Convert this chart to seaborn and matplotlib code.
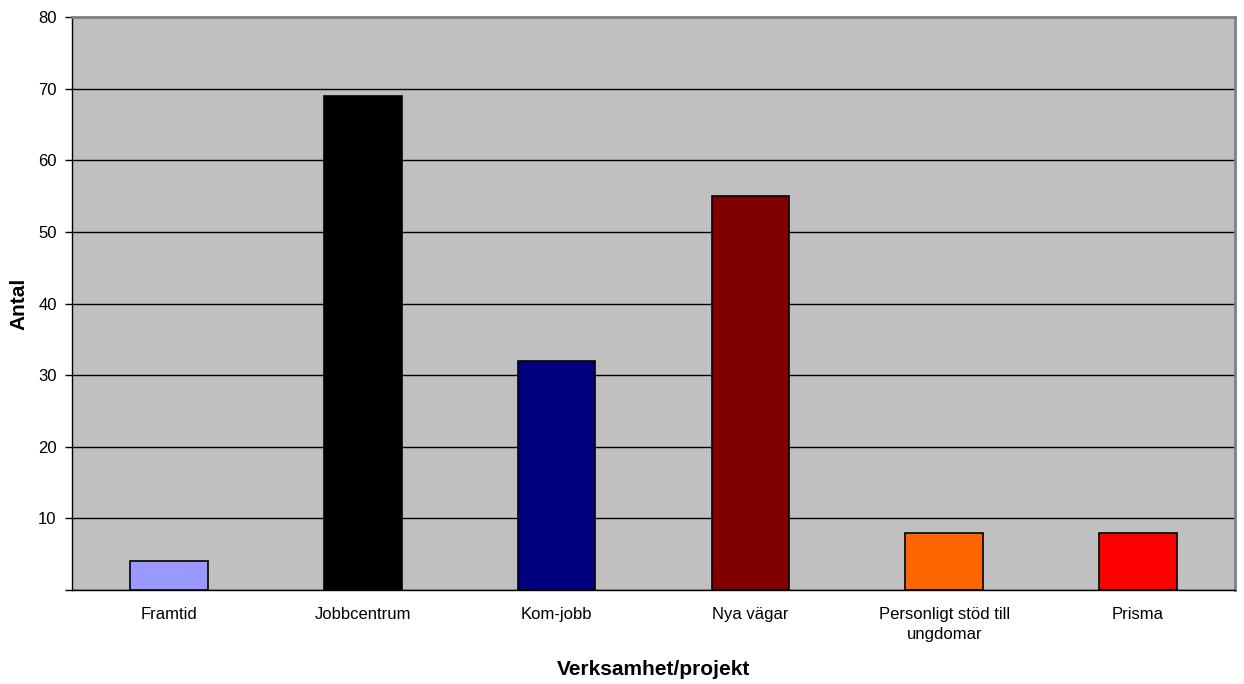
import matplotlib
matplotlib.use("Agg")
import matplotlib.pyplot as plt
import seaborn as sns
import pandas as pd
import numpy as np
from matplotlib.ticker import FixedLocator

categories = ["Framtid", "Jobbcentrum", "Kom-jobb", "Nya vägar",
              "Personligt stöd till\nungdomar", "Prisma"]
values = [4, 69, 32, 55, 8, 8]
colors = ["#9999FF", "#000000", "#000080", "#800000", "#FF6600", "#FF0000"]
y_ticks = [0, 10, 20, 30, 40, 50, 60, 70, 80]
y_ticklabels = ["", "10", "20", "30", "40", "50", "60", "70", "80"]

df = pd.DataFrame({"kategori": categories, "antal": values})

sns.set_style("white")
plt.rcParams["font.family"] = ["Liberation Sans", "DejaVu Sans"]
plt.rcParams["text.color"] = "black"
plt.rcParams["axes.labelcolor"] = "black"
plt.rcParams["xtick.color"] = "black"
plt.rcParams["ytick.color"] = "black"

fig = plt.figure(figsize=(12.44, 6.84), dpi=100)
ax = fig.add_axes([72 / 1244, 1 - 590 / 684, (1235 - 72) / 1244, (590 - 17) / 684])
ax.set_facecolor("#C0C0C0")

sns.barplot(data=df, x="kategori", y="antal", hue="kategori", palette=colors,
            legend=False, width=0.4, edgecolor="black", linewidth=1.2,
            saturation=1, ax=ax, zorder=3)

ax.set_ylim(0, 80)
ax.set_xlim(-0.5, len(categories) - 0.5)
ax.set_yticks(y_ticks)
ax.set_yticklabels(y_ticklabels)
ax.yaxis.grid(True, color="black", linewidth=1.0, zorder=1)
ax.set_axisbelow(True)

ax.xaxis.set_minor_locator(FixedLocator(np.arange(-0.5, len(categories), 1)))
ax.tick_params(axis="x", which="major", length=0, pad=12, labelsize=12,
               labelcolor="black")
ax.tick_params(axis="x", which="minor", length=5, width=1, color="black", direction="out")
ax.tick_params(axis="y", length=5, width=1, color="black", direction="out",
               pad=6, labelsize=12, left=True, labelcolor="black")
for lbl in ax.get_xticklabels():
    lbl.set_linespacing(1.45)

for s in ["left", "bottom"]:
    ax.spines[s].set_color("black")
    ax.spines[s].set_linewidth(1.0)
for s in ["top", "right"]:
    ax.spines[s].set_color("#808080")
    ax.spines[s].set_linewidth(2.0)

ax.set_xlabel("Verksamhet/projekt", fontsize=15, fontweight="bold", labelpad=13,
              color="black")
ax.set_ylabel("Antal", fontsize=15, fontweight="bold", labelpad=7, color="black")

fig.savefig("out.png", dpi=100)
